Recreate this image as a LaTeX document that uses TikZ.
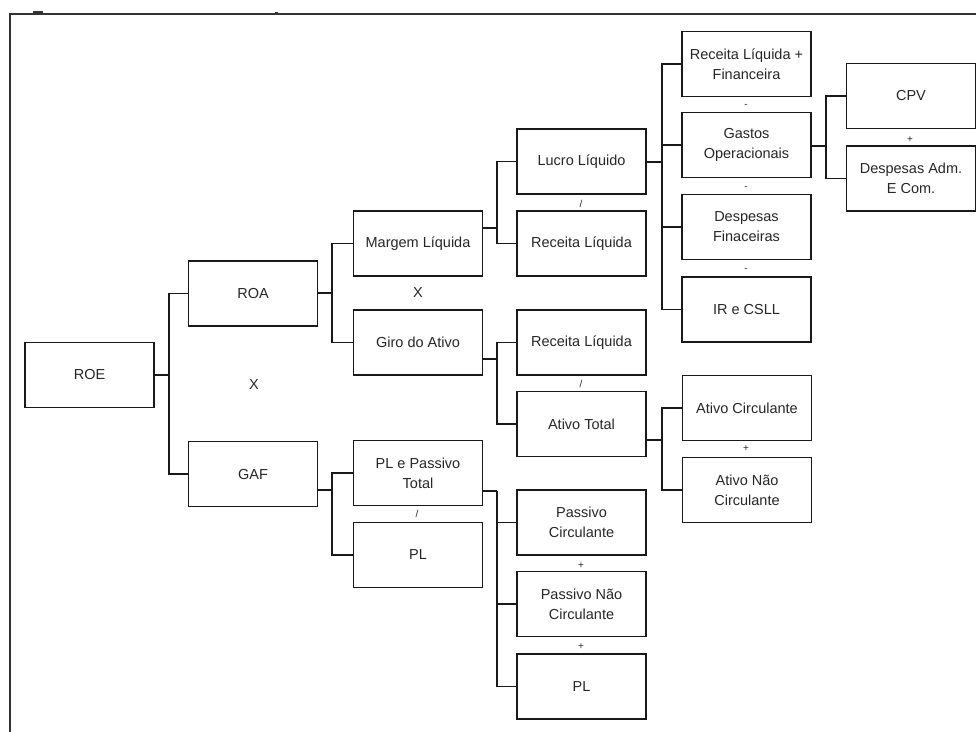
\documentclass[tikz,border=0pt]{standalone}
\usepackage{fontspec}
\setmainfont{Liberation Sans}
\begin{document}
\begin{tikzpicture}[x=1pt,y=-1pt,
  box/.style={draw=black!90,line width=1.7pt,minimum width=129pt,minimum height=65pt,inner sep=2pt,align=center,font=\fontsize{14.5}{20}\selectfont,text=black!85},
  conn/.style={draw=black!90,line width=1.4pt},
  oplbl/.style={inner sep=0pt,font=\fontsize{10}{12}\selectfont,text=black!85},
  xlbl/.style={inner sep=0pt,font=\fontsize{14.5}{17}\selectfont,text=black!85}]
\useasboundingbox (0,0) rectangle (976,731);
% frame
\draw[line width=2pt,black!80,line cap=rect] (976,14) -- (9.5,14) -- (9.5,731);
\fill[black!80] (33,11) rectangle (43,14);
\fill[black!80] (275,11.5) rectangle (278,14);
% boxes
\node[box] (roe) at (89.5,375) {ROE};
\node[box] (roa) at (253,293.5) {ROA};
\node[box] (gaf) at (253,474) {GAF};
\node[box] (margem) at (418,243.5) {Margem Líquida};
\node[box] (giro) at (418,342.5) {Giro do Ativo};
\node[box] (plpt) at (418,473) {PL e Passivo\\Total};
\node[box] (pla) at (418,555) {PL};
\node[box] (lucro) at (581.5,161.5) {Lucro Líquido};
\node[box] (reca) at (581.5,243.5) {Receita Líquida};
\node[box] (recb) at (581.5,342.5) {Receita Líquida};
\node[box] (ativot) at (581.5,424) {Ativo Total};
\node[box] (pc) at (581.5,522.5) {Passivo\\Circulante};
\node[box] (pnc) at (581.5,604) {Passivo Não\\Circulante};
\node[box] (plb) at (581.5,686.5) {PL};
\node[box] (rlf) at (746.5,64) {Receita Líquida +\\Financeira};
\node[box] (gastos) at (746.5,145) {Gastos\\Operacionais};
\node[box] (despfin) at (746.5,227) {Despesas\\Finaceiras};
\node[box] (ir) at (746.5,309.5) {IR e CSLL};
\node[box] (ativoc) at (747,408) {Ativo Circulante};
\node[box] (ativonc) at (747,490) {Ativo Não\\Circulante};
\node[box] (cpv) at (911,96) {CPV};
\node[box] (despadm) at (911,178.5) {Despesas Adm.\\E Com.};
% junctions
\coordinate (jroe) at (169,375);
\coordinate (jroa) at (332,293);
\coordinate (jgaf) at (332,490);
\coordinate (jmar) at (497,228);
\coordinate (jgiro) at (497,359);
\coordinate (jplpt) at (497,491);
\coordinate (jluc) at (662,162);
\coordinate (jat) at (662,440);
\coordinate (jgas) at (826,146);
% connectors
\draw[conn] (roe.east |- jroe) -- (jroe);
\draw[conn] (jroe) |- (roa.west);
\draw[conn] (jroe) |- (gaf.west);
\draw[conn] (roa.east |- jroa) -- (jroa);
\draw[conn] (jroa) |- (margem.west);
\draw[conn] (jroa) |- (giro.west);
\draw[conn] (gaf.east |- jgaf) -- (jgaf);
\draw[conn] (jgaf) |- (plpt.west);
\draw[conn] (jgaf) |- (pla.west);
\draw[conn] (margem.east |- jmar) -- (jmar);
\draw[conn] (jmar) |- (lucro.west);
\draw[conn] (jmar) |- (reca.west);
\draw[conn] (giro.east |- jgiro) -- (jgiro);
\draw[conn] (jgiro) |- (recb.west);
\draw[conn] (jgiro) |- (ativot.west);
\draw[conn] (plpt.east |- jplpt) -- (jplpt);
\draw[conn] (jplpt) |- (pc.west);
\draw[conn] (jplpt) |- (pnc.west);
\draw[conn] (jplpt) |- (plb.west);
\draw[conn] (lucro.east |- jluc) -- (jluc);
\draw[conn] (jluc) |- (rlf.west);
\draw[conn] (jluc) |- (gastos.west);
\draw[conn] (jluc) |- (despfin.west);
\draw[conn] (jluc) |- (ir.west);
\draw[conn] (ativot.east |- jat) -- (jat);
\draw[conn] (jat) |- (ativoc.west);
\draw[conn] (jat) |- (ativonc.west);
\draw[conn] (gastos.east |- jgas) -- (jgas);
\draw[conn] (jgas) |- (cpv.west);
\draw[conn] (jgas) |- (despadm.west);
% operator labels
\node[xlbl] (x1) at (254,385) {X};
\node[xlbl] (x2) at (418,293) {X};
\node[oplbl] (d1) at (581,204) {/};
\node[oplbl] (d2) at (581,384) {/};
\node[oplbl] (d3) at (417,514) {/};
\node[oplbl] (p1) at (581,566) {+};
\node[oplbl] (p2) at (581,647) {+};
\node[oplbl] (p3) at (746,449) {+};
\node[oplbl] (p4) at (910,140) {+};
\node[oplbl] (m1) at (746,106) {-};
\node[oplbl] (m2) at (746,188) {-};
\node[oplbl] (m3) at (746,270) {-};
\end{tikzpicture}
\end{document}
